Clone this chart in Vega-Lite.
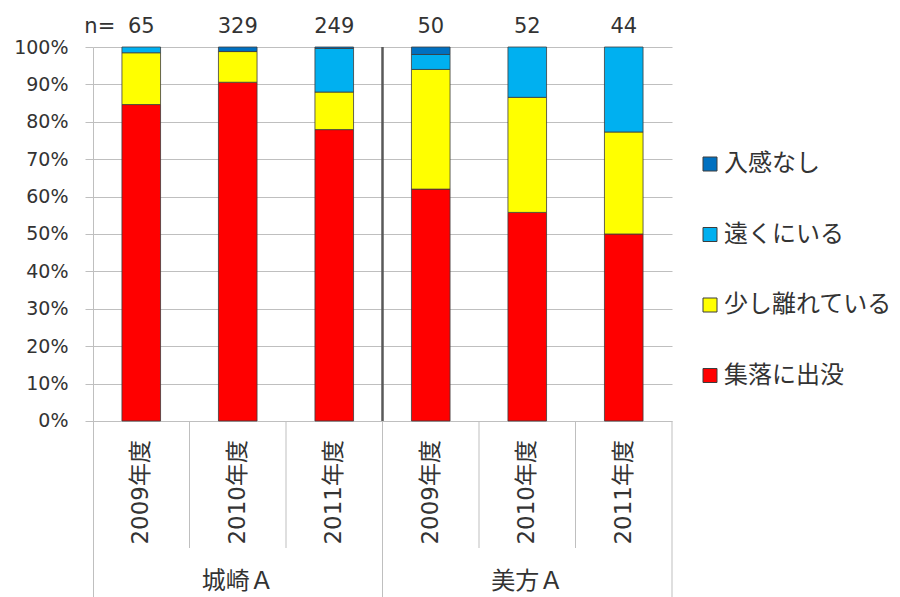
{
  "$schema": "https://vega.github.io/schema/vega-lite/v6.json",
  "width": 579,
  "height": 550,
  "autosize": {"type": "none"},
  "padding": {"left": 93, "top": 47, "right": 228, "bottom": 0},
  "background": "white",
  "config": {"view": {"stroke": null}, "font": "DejaVu Sans"},
  "data": {
    "values": [
      {"site": "城崎Ａ", "year": "2009年度", "type": "集落に出没", "count": 55},
      {"site": "城崎Ａ", "year": "2009年度", "type": "少し離れている", "count": 9},
      {"site": "城崎Ａ", "year": "2009年度", "type": "遠くにいる", "count": 1},
      {"site": "城崎Ａ", "year": "2010年度", "type": "集落に出没", "count": 298},
      {"site": "城崎Ａ", "year": "2010年度", "type": "少し離れている", "count": 27},
      {"site": "城崎Ａ", "year": "2010年度", "type": "入感なし", "count": 4},
      {"site": "城崎Ａ", "year": "2011年度", "type": "集落に出没", "count": 194},
      {"site": "城崎Ａ", "year": "2011年度", "type": "少し離れている", "count": 25},
      {"site": "城崎Ａ", "year": "2011年度", "type": "遠くにいる", "count": 29},
      {"site": "城崎Ａ", "year": "2011年度", "type": "入感なし", "count": 1},
      {"site": "美方Ａ", "year": "2009年度", "type": "集落に出没", "count": 31},
      {"site": "美方Ａ", "year": "2009年度", "type": "少し離れている", "count": 16},
      {"site": "美方Ａ", "year": "2009年度", "type": "遠くにいる", "count": 2},
      {"site": "美方Ａ", "year": "2009年度", "type": "入感なし", "count": 1},
      {"site": "美方Ａ", "year": "2010年度", "type": "集落に出没", "count": 29},
      {"site": "美方Ａ", "year": "2010年度", "type": "少し離れている", "count": 16},
      {"site": "美方Ａ", "year": "2010年度", "type": "遠くにいる", "count": 7},
      {"site": "美方Ａ", "year": "2011年度", "type": "集落に出没", "count": 22},
      {"site": "美方Ａ", "year": "2011年度", "type": "少し離れている", "count": 12},
      {"site": "美方Ａ", "year": "2011年度", "type": "遠くにいる", "count": 10}
    ]
  },
  "transform": [{"calculate": "datum.site + ' ' + datum.year", "as": "key"}],
  "layer": [
    {
      "transform": [
        {"calculate": "indexof(['集落に出没', '少し離れている', '遠くにいる', '入感なし'], datum.type)", "as": "rank"}
      ],
      "mark": {"type": "bar", "width": {"band": 0.4}, "stroke": "#3c3c3c", "strokeWidth": 0.8},
      "encoding": {
        "x": {
          "field": "key",
          "type": "nominal",
          "axis": null,
          "scale": {
            "domain": ["城崎Ａ 2009年度", "城崎Ａ 2010年度", "城崎Ａ 2011年度", "美方Ａ 2009年度", "美方Ａ 2010年度", "美方Ａ 2011年度"],
            "paddingInner": 0,
            "paddingOuter": 0
          }
        },
        "y": {
          "field": "count",
          "type": "quantitative",
          "stack": "normalize",
          "scale": {"domain": [-0.4706, 1], "nice": false, "zero": false},
          "axis": {
            "title": null,
            "values": [0, 0.1, 0.2, 0.3, 0.4, 0.5, 0.6, 0.7, 0.8, 0.9, 1],
            "format": ".0%",
            "grid": true,
            "gridColor": "#bfbfbf",
            "gridWidth": 1,
            "domainColor": "#bfbfbf",
            "tickColor": "#bfbfbf",
            "tickSize": 8,
            "labelPadding": 17,
            "labelFont": "DejaVu Sans",
            "labelFontSize": 19,
            "labelColor": "#333333"
          }
        },
        "color": {
          "field": "type",
          "type": "nominal",
          "scale": {
            "domain": ["入感なし", "遠くにいる", "少し離れている", "集落に出没"],
            "range": ["#0070C0", "#00B0F0", "#FFFF00", "#FF0000"]
          },
          "legend": {
            "title": null,
            "orient": "none",
            "legendX": 605,
            "legendY": 105,
            "symbolType": "square",
            "symbolSize": 196,
            "symbolStrokeColor": "#3c3c3c",
            "symbolStrokeWidth": 1,
            "labelFont": "Noto Sans CJK JP",
            "labelFontSize": 24,
            "labelColor": "#333333",
            "labelOffset": 2,
            "labelLimit": 300,
            "rowPadding": 46.5
          }
        },
        "order": {"field": "rank", "type": "quantitative"}
      }
    },
    {
      "transform": [
        {"aggregate": [{"op": "sum", "field": "count", "as": "n"}], "groupby": ["key", "year"]}
      ],
      "layer": [
        {
          "mark": {"type": "text", "font": "DejaVu Sans", "fontSize": 21, "baseline": "alphabetic", "dy": -14, "color": "#333333"},
          "encoding": {
            "x": {"field": "key", "type": "nominal"},
            "y": {"datum": 1},
            "text": {"field": "n", "type": "quantitative"}
          }
        },
        {
          "mark": {"type": "text", "font": "DejaVu Sans, Noto Sans CJK JP", "fontSize": 23, "angle": 270, "align": "right", "baseline": "middle", "color": "#333333"},
          "encoding": {
            "x": {"field": "key", "type": "nominal"},
            "y": {"datum": -0.0508},
            "text": {"field": "year", "type": "nominal"}
          }
        }
      ]
    },
    {
      "data": {"values": [{}]},
      "mark": {"type": "text", "text": "n=", "font": "DejaVu Sans", "fontSize": 21, "align": "right", "baseline": "alphabetic", "dx": -26, "dy": -14, "color": "#333333"},
      "encoding": {
        "x": {"datum": "城崎Ａ 2009年度", "type": "nominal"},
        "y": {"datum": 1}
      }
    },
    {
      "data": {"values": [{}]},
      "mark": {"type": "rule", "color": "#bfbfbf", "strokeWidth": 1},
      "encoding": {
        "x": {"datum": "美方Ａ 2009年度", "type": "nominal", "bandPosition": 0},
        "y": {"datum": -0.4706},
        "y2": {"datum": 0}
      }
    },
    {
      "data": {"values": [{}]},
      "mark": {"type": "rule", "color": "#bfbfbf", "strokeWidth": 1},
      "encoding": {
        "x": {"datum": "美方Ａ 2011年度", "type": "nominal", "bandPosition": 1},
        "y": {"datum": -0.4706},
        "y2": {"datum": 0}
      }
    },
    {
      "data": {"values": [{"key": "城崎Ａ 2010年度"}, {"key": "城崎Ａ 2011年度"}, {"key": "美方Ａ 2010年度"}, {"key": "美方Ａ 2011年度"}]},
      "mark": {"type": "rule", "color": "#bfbfbf", "strokeWidth": 1},
      "encoding": {
        "x": {"field": "key", "type": "nominal", "bandPosition": 0},
        "y": {"datum": -0.3396},
        "y2": {"datum": 0}
      }
    },
    {
      "data": {"values": [{}]},
      "mark": {"type": "rule", "color": "#595959", "strokeWidth": 2.5},
      "encoding": {
        "x": {"datum": "美方Ａ 2009年度", "type": "nominal", "bandPosition": 0},
        "y": {"datum": 0},
        "y2": {"datum": 1}
      }
    },
    {
      "data": {"values": [{}]},
      "mark": {"type": "text", "text": "城崎Ａ", "font": "Noto Sans CJK JP", "fontSize": 24, "baseline": "middle", "color": "#333333"},
      "encoding": {
        "x": {"datum": "城崎Ａ 2010年度", "type": "nominal"},
        "y": {"datum": -0.4305}
      }
    },
    {
      "data": {"values": [{}]},
      "mark": {"type": "text", "text": "美方Ａ", "font": "Noto Sans CJK JP", "fontSize": 24, "baseline": "middle", "color": "#333333"},
      "encoding": {
        "x": {"datum": "美方Ａ 2010年度", "type": "nominal"},
        "y": {"datum": -0.4305}
      }
    }
  ]
}
